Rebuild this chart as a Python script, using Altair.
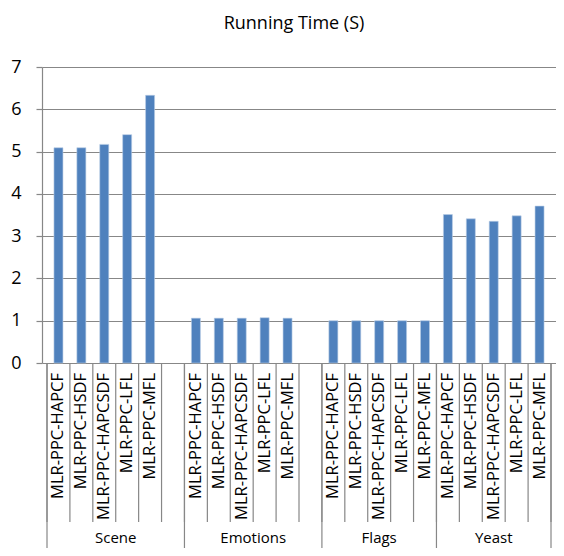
import altair as alt
import pandas as pd

# ---- data ----
datasets = ["Scene", "Emotions", "Flags", "Yeast"]
methods = ["MLR-PPC-HAPCF", "MLR-PPC-HSDF", "MLR-PPC-HAPCSDF", "MLR-PPC-LFL", "MLR-PPC-MFL"]
scene = [5.09, 5.09, 5.17, 5.40, 6.33]
emotions = [1.06, 1.06, 1.06, 1.07, 1.06]
flags = [1.00, 1.00, 1.00, 1.00, 1.00]
yeast = [3.51, 3.41, 3.35, 3.48, 3.71]
blank_after = [1, 1, 0, 0]  # empty category slots following each group
y_ticks = [0, 1, 2, 3, 4, 5, 6, 7]
title_text = "Running Time (S)"

series = [scene, emotions, flags, yeast]

# ---- build tables ----
bar_rows, group_rows = [], []
pos = 0
for name, vals, blank in zip(datasets, series, blank_after):
    start = pos
    for m, v in zip(methods, vals):
        bar_rows.append({"dataset": name, "method": m, "value": v, "pos": pos + 0.5})
        pos += 1
    pos += blank
    group_rows.append({"name": name, "start": start, "end": pos, "center": (start + pos) / 2})
total = pos

bars_df = pd.DataFrame(bar_rows)
groups_df = pd.DataFrame(group_rows)
bounds_df = pd.DataFrame({"b": list(range(total + 1))})
gbounds_df = pd.DataFrame({"b": sorted(set([g["start"] for g in group_rows] + [total]))})

W, H = 514, 296
PAD_L, PAD_T, PAD_B = 34, 59, 185
FONT = "Open Sans"
GRID = "#878787"

xs = alt.Scale(domain=[0, total], nice=False, zero=False)
ys = alt.Scale(domain=[0, 7], nice=False)

yaxis = alt.Axis(
    values=y_ticks, title=None, grid=True, gridColor=GRID, gridWidth=1.2,
    domainColor=GRID, domainWidth=1.2, tickColor=GRID, tickSize=6, tickWidth=1.2,
    labelFont=FONT, labelFontSize=18, labelColor="#000000", labelPadding=15,
)

bars = alt.Chart(bars_df).mark_bar(
    size=9, color="#4F81BD", stroke="#B9CDE5", strokeWidth=0.6
).encode(
    x=alt.X("pos:Q", scale=xs, axis=None),
    y=alt.Y("value:Q", scale=ys, axis=yaxis),
)

slot_sep = alt.Chart(bounds_df).mark_rule(color=GRID, strokeWidth=1.2).encode(
    x=alt.X("b:Q", scale=xs, axis=None),
    y=alt.value(H), y2=alt.value(H + 159),
)

group_sep = alt.Chart(gbounds_df).mark_rule(color=GRID, strokeWidth=1.2).encode(
    x=alt.X("b:Q", scale=xs, axis=None),
    y=alt.value(H), y2=alt.value(H + PAD_B),
)

slot_labels = alt.Chart(bars_df).mark_text(
    angle=270, align="right", baseline="middle", font=FONT, fontSize=16.5, color="#000000"
).encode(
    x=alt.X("pos:Q", scale=xs, axis=None),
    y=alt.value(H + 10),
    text="method:N",
)

group_labels = alt.Chart(groups_df).mark_text(
    baseline="middle", font=FONT, fontSize=15, color="#000000"
).encode(
    x=alt.X("center:Q", scale=xs, axis=None),
    y=alt.value(H + 175),
    text="name:N",
)

chart = alt.layer(bars, slot_sep, group_sep, slot_labels, group_labels).properties(
    width=W, height=H,
    autosize=alt.AutoSizeParams(type="none"),
    padding={"left": PAD_L, "top": PAD_T, "right": 0, "bottom": PAD_B},
    title=alt.TitleParams(
        title_text, font=FONT, fontSize=18, fontWeight="normal", color="#000000",
        anchor="middle", dx=-5, offset=7, baseline="bottom",
    ),
).configure_view(stroke=None)

chart.save("out.html", embed_options={"renderer": "svg", "actions": False})
